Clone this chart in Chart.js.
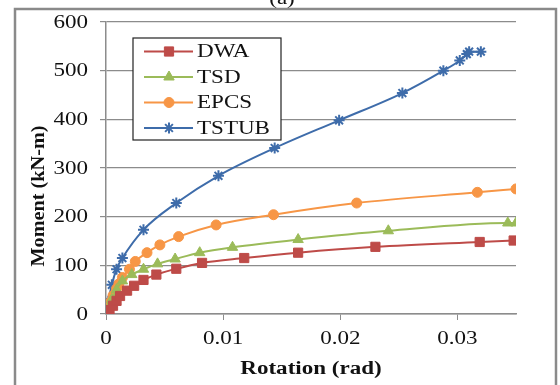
<!DOCTYPE html>
<html>
<head>
<meta charset="utf-8">
<script src="https://cdn.jsdelivr.net/npm/chart.js@4"></script>
<style>
  html, body { margin: 0; padding: 0; background: #fff; }
  #wrap { width: 560px; height: 385px; position: relative; }
</style>
</head>
<body>
<div id="wrap"><canvas id="chart" width="560" height="385"></canvas></div>
<script>
    // values (rotation in rad, moment in kN-m)
    const seriesNames = ['DWA', 'TSD', 'EPCS', 'TSTUB'];
    const seriesColors = ['#BE4B48', '#9BBB59', '#F79646', '#3E6CAA'];
    const seriesMarkers = ['rect', 'triangle', 'circle', 'star'];
    const markerSizes = [6.5, 6, 5, 5.5];

    const dwaRot = [0, 0.0003, 0.0006, 0.0009, 0.0012, 0.0018, 0.0024, 0.0032, 0.0043, 0.006, 0.0082, 0.0118, 0.0164, 0.023, 0.0319, 0.0348];
    const dwaMom = [0, 8, 17, 27, 37, 48, 58, 70, 81, 93, 105, 115, 126, 138, 148, 151];

    const tsdRot = [0, 0.0002, 0.0005, 0.0009, 0.0014, 0.0022, 0.0032, 0.0044, 0.0059, 0.008, 0.0108, 0.0164, 0.0241, 0.0343, 0.035];
    const tsdMom = [0, 12, 30, 50, 68, 81, 92, 103, 113, 126, 137, 153, 171, 187, 187];

    const epcsRot = [0, 0.0002, 0.0004, 0.0006, 0.0009, 0.0011, 0.0014, 0.002, 0.0025, 0.0035, 0.0046, 0.0062, 0.0094, 0.0143, 0.0214, 0.0317, 0.035];
    const epcsMom = [0, 12, 25, 38, 52, 62, 75, 92, 108, 126, 142, 159, 183, 204, 228, 250, 257];

    const tstubRot = [0, 0.0001, 0.0002, 0.0005, 0.0009, 0.0014, 0.0032, 0.006, 0.0096, 0.0144, 0.0199, 0.0253, 0.0288, 0.0302, 0.0308, 0.031, 0.032];
    const tstubMom = [0, 10, 26, 60, 92, 115, 173, 228, 284, 341, 398, 454, 500, 521, 534, 539, 539];

    const xTicks = [0, 0.01, 0.02, 0.03];
    const yTicks = [0, 100, 200, 300, 400, 500, 600];
    const xTitle = 'Rotation (rad)';
    const yTitle = 'Moment (kN-m)';

    const allRot = [dwaRot, tsdRot, epcsRot, tstubRot];
    const allMom = [dwaMom, tsdMom, epcsMom, tstubMom];

    const serif = '"Liberation Serif", "Times New Roman", serif';
    const stretch = 1.28; // the original figure is stretched sideways

    const datasets = seriesNames.map((name, i) => ({
        label: name,
        data: allRot[i].map((x, j) => ({ x: x, y: allMom[i][j] })),
        borderColor: seriesColors[i],
        backgroundColor: seriesColors[i],
        pointStyle: seriesMarkers[i],
        pointRadius: markerSizes[i],
        pointBorderWidth: i === 3 ? 2 : 1,
        borderWidth: 2,
        cubicInterpolationMode: 'monotone',
        fill: false
    }));

    function wideText(ctx, text, x, y, align, sx) {
        ctx.save();
        ctx.translate(x, y);
        ctx.scale(sx, 1);
        ctx.textAlign = align;
        ctx.fillText(text, 0, 0);
        ctx.restore();
    }

    // frame, partial "(a)" caption, tick labels, titles and boxed legend
    const decorations = {
        id: 'decorations',
        afterDraw(c) {
            const ctx = c.ctx;
            const xs = c.scales.x, ys = c.scales.y;
            ctx.save();
            ctx.strokeStyle = '#8a8a8a';
            ctx.lineWidth = 2.5;
            ctx.strokeRect(15, 9, 541, 400);

            ctx.fillStyle = '#111';
            ctx.textBaseline = 'alphabetic';
            ctx.font = '18px ' + serif;
            wideText(ctx, '(a)', 282, 4, 'center', stretch);

            // tick labels
            ctx.textBaseline = 'middle';
            yTicks.forEach(v => wideText(ctx, String(v), 88, ys.getPixelForValue(v) + 1, 'right', stretch));
            xTicks.forEach(v => wideText(ctx, String(v), xs.getPixelForValue(v), 339, 'center', stretch));

            // axis titles
            ctx.font = 'bold 18px ' + serif;
            wideText(ctx, xTitle, 311, 369, 'center', stretch);
            ctx.save();
            ctx.translate(39, 196);
            ctx.rotate(-Math.PI / 2);
            const w = ctx.measureText(yTitle).width;
            wideText(ctx, yTitle, 0, 0, 'center', 141 / w);
            ctx.restore();

            // legend box
            const bx = 133, by = 38, bw = 148, bh = 102;
            ctx.fillStyle = '#fff';
            ctx.fillRect(bx, by, bw, bh);
            ctx.strokeStyle = '#222';
            ctx.lineWidth = 1.2;
            ctx.strokeRect(bx, by, bw, bh);
            ctx.font = '18px ' + serif;
            seriesNames.forEach((name, i) => {
                const y = 51.5 + i * 25.5;
                ctx.strokeStyle = seriesColors[i];
                ctx.fillStyle = seriesColors[i];
                ctx.lineWidth = 2;
                ctx.beginPath();
                ctx.moveTo(144, y);
                ctx.lineTo(193, y);
                ctx.stroke();
                ctx.lineWidth = i === 3 ? 2 : 1;
                Chart.helpers.drawPoint(ctx, {
                    pointStyle: seriesMarkers[i],
                    radius: markerSizes[i],
                    borderWidth: i === 3 ? 2 : 1,
                    rotation: 0
                }, 169, y);
                ctx.fillStyle = '#111';
                wideText(ctx, name, 197, y + 1, 'left', stretch);
            });
            ctx.restore();
        }
    };

    const chart = new Chart(document.getElementById('chart').getContext('2d'), {
        type: 'line',
        data: { datasets: datasets },
        options: {
            responsive: false,
            animation: false,
            layout: { padding: { top: 22, right: 44, left: 0, bottom: 0 } },
            plugins: {
                legend: { display: false },
                tooltip: { enabled: false }
            },
            scales: {
                x: {
                    type: 'linear',
                    min: 0,
                    max: 0.035,
                    afterBuildTicks: axis => { axis.ticks = xTicks.map(v => ({ value: v })); },
                    afterFit: axis => { axis.height = 71; },
                    grid: { drawOnChartArea: false, color: '#8c8c8c', tickLength: 6 },
                    border: { color: '#8c8c8c', width: 1.5 },
                    ticks: { display: false }
                },
                y: {
                    min: 0,
                    max: 600,
                    afterBuildTicks: axis => { axis.ticks = yTicks.map(v => ({ value: v })); },
                    afterFit: axis => { axis.width = 106; },
                    grid: { color: '#8c8c8c', tickLength: 6, lineWidth: 1.2 },
                    border: { color: '#8c8c8c', width: 1.5 },
                    ticks: { display: false }
                }
            }
        },
        plugins: [decorations]
    });
</script>
</body>
</html>
